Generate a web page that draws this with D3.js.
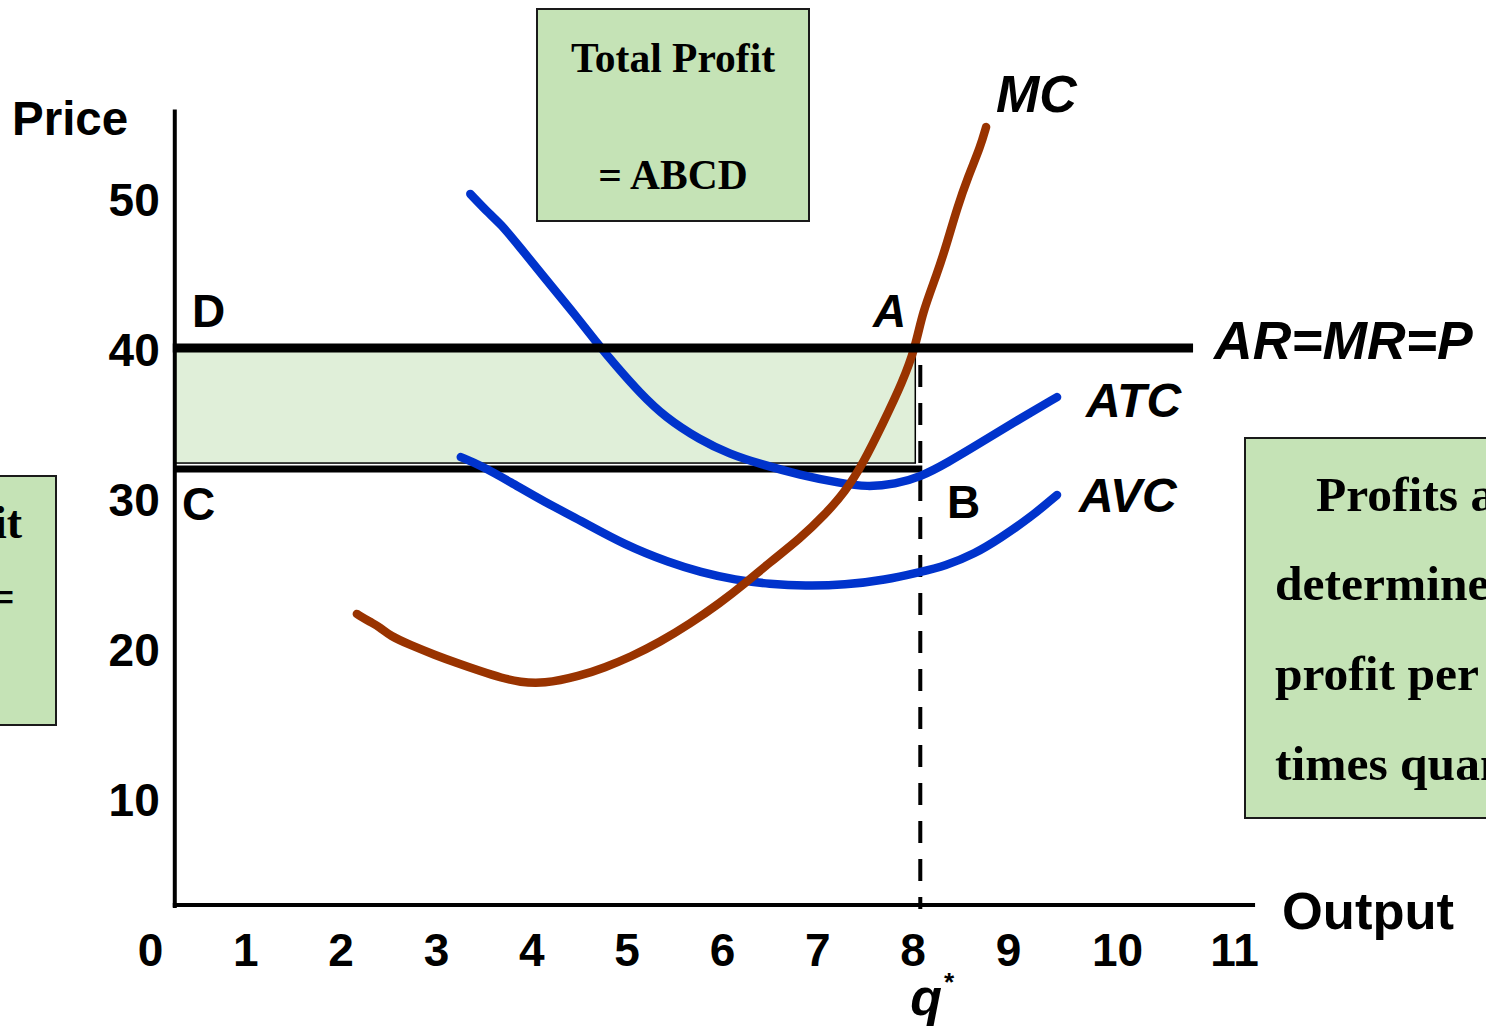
<!DOCTYPE html>
<html>
<head>
<meta charset="utf-8">
<script src="https://cdn.jsdelivr.net/npm/d3@7"></script>
<style>
  html, body { margin: 0; padding: 0; background: #fff; }
  svg { display: block; }
  .sans { font-family: "Liberation Sans", Arial, sans-serif; font-weight: bold; }
  .serif { font-family: "Liberation Serif", "Times New Roman", serif; font-weight: bold; }
</style>
</head>
<body>
<svg id="chart" width="1486" height="1026"></svg>
<script>
// Output tick labels and price tick labels
const xTicks = [0, 1, 2, 3, 4, 5, 6, 7, 8, 9, 10, 11];
const yTicks = [10, 20, 30, 40, 50];

// Market price (AR = MR = P), profit-maximising output and unit cost at q*
const price = 40;
const qStar = 8.08;
const costAtQ = 31.93;

// Axis extent in data units
const axisOriginQ = 0.26;
const axisOriginP = 2.87;
const axisEndQ = 11.18;
const axisTopP = 55.9;
const priceLineEndQ = 10.65;

// Marginal cost curve [output, price]
const mcPoints = [
  [2.17, 22.27], [2.31, 21.73], [2.41, 21.4], [2.52, 20.8], [2.73, 20.2],
  [2.99, 19.53], [3.22, 19.0], [3.46, 18.47], [3.69, 18.0], [3.88, 17.73],
  [4.12, 17.6], [4.51, 18.13], [4.77, 18.7], [5.04, 19.4], [5.35, 20.4],
  [5.66, 21.6], [5.98, 23.0], [6.24, 24.3], [6.50, 25.7], [6.82, 27.3],
  [7.08, 28.9], [7.29, 30.4], [7.48, 32.3], [7.69, 35.0], [7.89, 37.67],
  [8.03, 40.07], [8.10, 42.33], [8.26, 45.0], [8.36, 47.0], [8.47, 49.4],
  [8.58, 51.4], [8.71, 53.4], [8.77, 54.73]
];

// Average total cost curve
const atcPoints = [
  [3.36, 50.27], [3.57, 48.87], [3.67, 48.33], [3.88, 46.73], [4.14, 44.67],
  [4.41, 42.6], [4.69, 40.33], [4.88, 38.87], [5.14, 37.0], [5.40, 35.4],
  [5.77, 33.87], [6.08, 32.93], [6.40, 32.27], [6.82, 31.53], [7.24, 31.0],
  [7.52, 30.73], [7.82, 30.93], [8.08, 31.4], [8.36, 32.33], [8.71, 33.67],
  [9.09, 35.2], [9.45, 36.73]
];

// Average variable cost curve
const avcPoints = [
  [3.26, 32.73], [3.46, 32.2], [3.78, 31.07], [4.14, 29.73], [4.51, 28.53],
  [4.98, 26.87], [5.46, 25.67], [5.77, 25.07], [6.14, 24.53], [6.50, 24.27],
  [6.87, 24.13], [7.29, 24.2], [7.71, 24.53], [8.08, 25.07], [8.34, 25.47],
  [8.65, 26.27], [8.92, 27.33], [9.20, 28.67], [9.45, 30.2]
];

const svg = d3.select("#chart");

const x = d3.scaleLinear().domain([0, 9, 10, 11]).range([150, 1008, 1117, 1234]);
const y = d3.scaleLinear().domain([0, 50]).range([948, 198]);

const BLUE = "#0033cc";
const BROWN = "#993300";
const BOX_GREEN = "#c5e3b6";
const AREA_GREEN = "#e0efd9";

// Profit rectangle ABCD
svg.append("rect")
  .attr("x", x(axisOriginQ))
  .attr("y", y(price))
  .attr("width", x(qStar) - 5 - x(axisOriginQ))
  .attr("height", (y(costAtQ) - 6) - y(price))
  .attr("fill", AREA_GREEN)
  .attr("stroke", "#000")
  .attr("stroke-width", 1.5);

// Axis lines
svg.append("line")
  .attr("x1", x(axisOriginQ)).attr("x2", x(axisOriginQ))
  .attr("y1", y(axisTopP)).attr("y2", y(axisOriginP) + 3)
  .attr("stroke", "#000").attr("stroke-width", 4);
svg.append("line")
  .attr("x1", x(axisOriginQ) - 2).attr("x2", x(axisEndQ))
  .attr("y1", y(axisOriginP)).attr("y2", y(axisOriginP))
  .attr("stroke", "#000").attr("stroke-width", 4);

// Tick labels through d3 axes (no domain / tick marks)
const yAxis = d3.axisLeft(y).tickValues(yTicks).tickSize(0).tickPadding(15);
svg.append("g")
  .attr("transform", `translate(${x(axisOriginQ)},0)`)
  .call(yAxis)
  .call(g => g.select(".domain").remove())
  .selectAll("text")
  .attr("class", "sans")
  .attr("font-size", 46)
  .attr("fill", "#000")
  .attr("dy", "0.39em");

const xAxis = d3.axisBottom(x).tickValues(xTicks).tickSize(0).tickPadding(28);
svg.append("g")
  .attr("transform", `translate(0,${y(axisOriginP)})`)
  .call(xAxis)
  .call(g => g.select(".domain").remove())
  .selectAll("text")
  .attr("class", "sans")
  .attr("font-size", 46)
  .attr("fill", "#000");

svg.selectAll("g").attr("font-family", null).attr("font-size", null);

// Cost level line C–B
svg.append("line")
  .attr("x1", x(axisOriginQ)).attr("x2", x(qStar) + 2)
  .attr("y1", y(costAtQ)).attr("y2", y(costAtQ))
  .attr("stroke", "#000").attr("stroke-width", 7);

// Dashed drop line at q*
svg.append("line")
  .attr("x1", x(qStar)).attr("x2", x(qStar))
  .attr("y1", y(price) + 17).attr("y2", y(axisOriginP) + 4)
  .attr("stroke", "#000").attr("stroke-width", 4)
  .attr("stroke-dasharray", "22,16");

// Cost curves
const line = d3.line()
  .x(d => x(d[0]))
  .y(d => y(d[1]))
  .curve(d3.curveBasis);

const curves = [
  { pts: avcPoints, color: BLUE },
  { pts: atcPoints, color: BLUE },
  { pts: mcPoints, color: BROWN }
];
svg.selectAll("path.curve")
  .data(curves)
  .join("path")
  .attr("class", "curve")
  .attr("d", d => line(d.pts))
  .attr("fill", "none")
  .attr("stroke", d => d.color)
  .attr("stroke-width", 8.5)
  .attr("stroke-linecap", "round")
  .attr("stroke-linejoin", "round");

// Price line AR = MR = P
svg.append("line")
  .attr("x1", x(axisOriginQ) - 2).attr("x2", x(priceLineEndQ))
  .attr("y1", y(price)).attr("y2", y(price))
  .attr("stroke", "#000").attr("stroke-width", 9);

// Labels
function label(txt, px, py, size, italic, cls) {
  const t = svg.append("text")
    .attr("class", cls || "sans")
    .attr("x", px).attr("y", py)
    .attr("font-size", size)
    .attr("fill", "#000")
    .text(txt);
  if (italic) t.attr("font-style", "italic");
  return t;
}

label("Price", 12, 135, 47.5, false);
label("Output", 1282, 929, 52.5, false);
label("MC", 996, 112, 52, true);
label("AR=MR=P", 1214, 359, 53.5, true);
label("ATC", 1086, 417, 48, true);
label("AVC", 1079, 512, 48, true);
label("D", 192, 327, 46, false);
label("A", 873, 327, 46, true);
label("C", 182, 520, 46, false);
label("B", 947, 518, 46, false);

const qLabel = svg.append("text")
  .attr("class", "sans")
  .attr("x", x(qStar) - 10).attr("y", 1015)
  .attr("font-size", 52)
  .attr("font-style", "italic")
  .attr("fill", "#000");
qLabel.append("tspan").text("q");
qLabel.append("tspan").attr("font-size", 26).attr("dy", -24).attr("dx", 1).text("*");

// Explanatory boxes
function box(bx, by, bw, bh) {
  svg.append("rect")
    .attr("x", bx).attr("y", by).attr("width", bw).attr("height", bh)
    .attr("fill", BOX_GREEN)
    .attr("stroke", "#1a1a1a")
    .attr("stroke-width", 2);
}

box(537, 9, 272, 212);
label("Total Profit", 673, 72, 41.5, false, "serif").attr("text-anchor", "middle");
label("= ABCD", 673, 189, 41.5, false, "serif").attr("text-anchor", "middle");

box(-20, 476, 76, 249);
label("Profit per unit", 22, 538, 46, false, "serif").attr("text-anchor", "end");
label("=", 15, 612, 46, false, "serif").attr("text-anchor", "end");

box(1245, 438, 260, 380);
label("Profits are", 1316, 511, 49.5, false, "serif");
label("determined by", 1275, 600, 49.5, false, "serif");
label("profit per unit", 1275, 690, 49.5, false, "serif");
label("times quantity", 1275, 780, 49.5, false, "serif");
</script>
</body>
</html>
